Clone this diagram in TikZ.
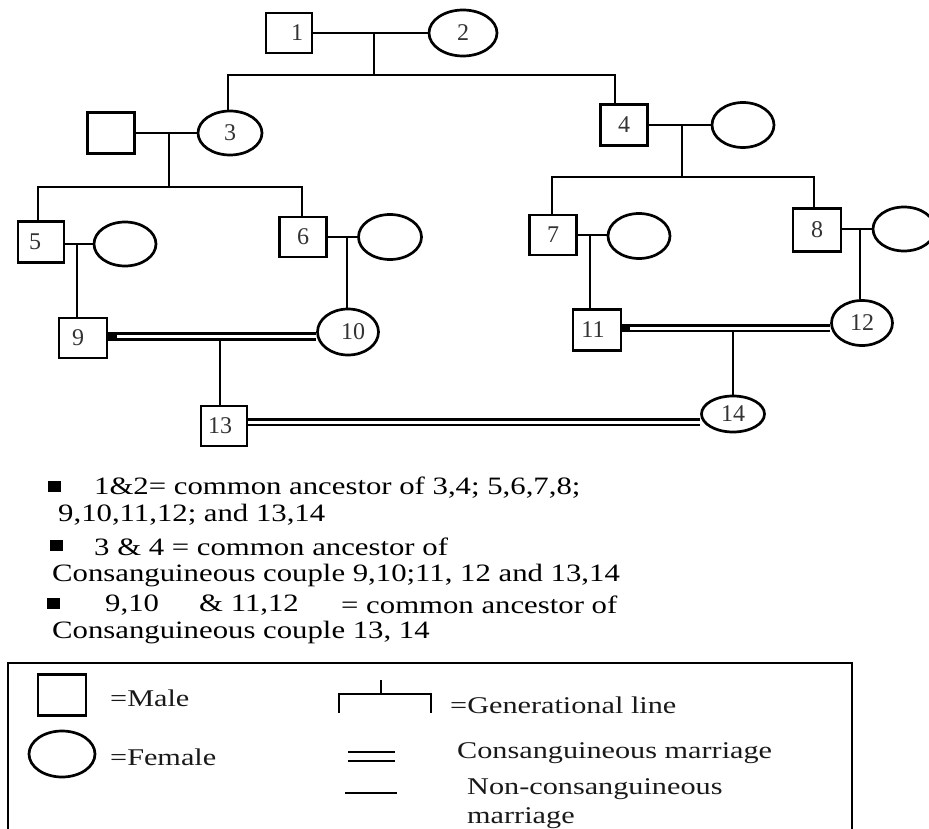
\documentclass[tikz,border=0pt]{standalone}
\usepackage{fontspec}
\setmainfont{Liberation Serif}
\usepackage{graphicx}
\usetikzlibrary{shapes.geometric,backgrounds}
\newcommand\wtxt[2]{\scalebox{#1}[1]{#2}}
\begin{document}
\begin{tikzpicture}[x=1pt,y=-1pt,
  ln/.style={line width=2.9pt},
  male/.style={draw, line width=2.7pt, rectangle, minimum width=46pt, minimum height=40pt, inner sep=0pt,
    font=\fontsize{24}{26}\selectfont, text=black!80},
  female/.style={draw, line width=2.7pt, ellipse, minimum width=62pt, minimum height=44pt, inner sep=0pt,
    font=\fontsize{24}{26}\selectfont, text=black!80},
  dbl/.style={double, double distance=3pt, line width=2.6pt},
  blob/.style={fill=black, draw=none},
  txt/.style={anchor=west, inner sep=0pt, font=\fontsize{25}{29}\selectfont, text=black},
  leg/.style={anchor=west, inner sep=0pt, font=\fontsize{24}{28}\selectfont, text=black!90},
  bul/.style={fill=black, draw=none, rectangle, minimum width=13pt, minimum height=11pt, inner sep=0pt}
]
\useasboundingbox (0,0) rectangle (929,829);
\clip (0,0) rectangle (929,829);

% ---------- persons ----------
\node[male] (n1) at (289,33) {\kern16pt 1};
\node[female, minimum width=68pt, minimum height=46pt] (n2) at (463,33) {2};
\node[male, minimum width=47pt, minimum height=41pt] (h3) at (111,133) {};
\node[female, minimum width=64pt] (n3) at (230,133) {3};
\node[male, minimum width=47pt, minimum height=41pt] (n4) at (624,125) {4};
\node[female, minimum height=45pt] (w4) at (743,125) {};
\node[male, minimum height=41pt] (n5) at (41,242) {\kern-12pt 5};
\node[female] (w5) at (125,244) {};
\node[male, minimum width=47pt] (n6) at (303,237) {6};
\node[female, minimum width=63pt, minimum height=45pt] (w6) at (390,237) {};
\node[male, minimum width=47pt] (n7) at (553,235) {7};
\node[female, minimum height=45pt] (w7) at (639,236) {};
\node[male, minimum width=48pt, minimum height=43pt] (n8) at (817,230) {8};
\node[female] (w8) at (904,229) {};
\node[male, minimum width=48pt] (n9) at (83,338) {\kern-10pt 9};
\node[female, minimum width=61pt, minimum height=46pt] (n10) at (348,332) {\kern10pt 10};
\node[male, minimum width=48pt, minimum height=41pt] (n11) at (597,330) {\kern-8pt 11};
\node[female, minimum width=61pt, minimum height=45pt] (n12) at (862,323) {12};
\node[male] (n13) at (224,426) {\kern-8pt 13};
\node[female, minimum width=63pt, minimum height=36pt] (n14) at (733,414) {14};

% ---------- junctions ----------
\coordinate (m12) at (374,33);
\coordinate (sL) at (228,75);
\coordinate (sR) at (615,75);
\coordinate (mh3) at (169,133);
\coordinate (a5) at (38,187);
\coordinate (a6) at (302,187);
\coordinate (m4) at (682,125);
\coordinate (a7) at (552,177);
\coordinate (a8) at (814,177);
\coordinate (m5) at (77,244);
\coordinate (m6) at (347,237);
\coordinate (m7) at (590,235);
\coordinate (m8) at (860,229);
\coordinate (d910) at (220,336.5);
\coordinate (d1112) at (733,328);
\coordinate (d1314) at (475,422);

\begin{pgfonlayer}{background}
% marriages (single)
\draw[ln] (n1) -- (n2);
\draw[ln] (h3) -- (n3);
\draw[ln] (n4) -- (w4);
\draw[ln] (n5.east |- m5) -- (w5.west |- m5);
\draw[ln] (n6) -- (w6);
\draw[ln] (n7.east |- m7) -- (w7.west |- m7);
\draw[ln] (n8.east |- m8) -- (w8.west |- m8);
% descents and sibships
\draw[ln] (m12) -- (m12 |- sL);
\draw[ln] (n3.north -| sL) -- (sL) -- (sR) -- (sR |- n4.north);
\draw[ln] (mh3) -- (mh3 |- a5);
\draw[ln] (n5.north -| a5) -- (a5) -- (a6) -- (a6 |- n6.north);
\draw[ln] (m4) -- (m4 |- a7);
\draw[ln] (n7.north -| a7) -- (a7) -- (a8) -- (a8 |- n8.north);
\draw[ln] (m5) -- (m5 |- n9.north);
\draw[ln] (m6) -- (m6 |- n10.north);
\draw[ln] (m7) -- (m7 |- n11.north);
\draw[ln] (m8) -- (m8 |- n12.north);
\draw[ln] (d910) -- (d910 |- n13.north);
\draw[ln] (d1112) -- (d1112 |- n14.north);
% consanguineous marriages
\draw[dbl] (n9.east |- d910) -- (n10.west |- d910);
\draw[dbl] (n11.east |- d1112) -- (n12.west |- d1112);
\draw[dbl] (n13.east |- d1314) -- (n14.west |- d1314);
\end{pgfonlayer}
% filled ends of the double lines next to 9 and 11
\fill[blob] ([yshift=-4pt]n9.east |- d910) -- ([xshift=9pt,yshift=-4pt]n9.east |- d910)
  -- ([xshift=9pt,yshift=4pt]n9.east |- d910) -- ([yshift=4pt]n9.east |- d910) -- cycle;
\fill[blob] ([yshift=-4pt]n11.east |- d1112) -- ([xshift=8pt,yshift=-4pt]n11.east |- d1112)
  -- ([xshift=8pt,yshift=4pt]n11.east |- d1112) -- ([yshift=4pt]n11.east |- d1112) -- cycle;

% ---------- notes ----------
\node[bul] (b1) at (54.5,486) {};
\node[txt] (t1) at (94,488) {\wtxt{1.23}{1\&2= common ancestor of 3,4; 5,6,7,8;}};
\node[txt] (t2) at (58,515) {\wtxt{1.23}{9,10,11,12; and 13,14}};
\node[bul] (b3) at (56.5,545) {};
\node[txt] (t3) at (94,547) {\wtxt{1.23}{3 \& 4 = common ancestor of}};
\node[txt] (t4) at (52,576) {\wtxt{1.23}{Consanguineous couple 9,10;11, 12 and 13,14}};
\node[bul] (b5) at (53,603) {};
\node[txt] (t5a) at (105,605) {\wtxt{1.23}{9,10}};
\node[txt] (t5b) at (199,605) {\wtxt{1.23}{\& 11,12}};
\node[txt] (t5c) at (341,605) {\wtxt{1.23}{= common ancestor of}};
\node[txt] (t6) at (52,633) {\wtxt{1.23}{Consanguineous couple 13, 14}};

% ---------- legend ----------
\draw[line width=2pt] (8,663) rectangle (852,860);
\node[male, minimum width=48pt, minimum height=41pt] (lm) at (62,695) {};
\node[female, minimum width=66pt, minimum height=46pt] (lf) at (62,754) {};
\node[leg] (lmt) at (110,698) {\wtxt{1.26}{=Male}};
\node[leg] (lft) at (110,757) {\wtxt{1.26}{=Female}};
\coordinate (g1) at (381,680);
\coordinate (g3) at (339,694);
\coordinate (g4) at (431,694);
\draw[line width=2pt] (g1) -- (g1 |- g3);
\draw[line width=2pt] (339,713) -- (g3) -- (g4) -- (431,713);
\node[leg] (lgt) at (450,705) {\wtxt{1.26}{=Generational line}};
\draw[line width=2pt] (348,752) -- (395,752);
\draw[line width=2pt] (348,761) -- (395,761);
\node[leg] (lct) at (457,753) {\wtxt{1.26}{Consanguineous marriage}};
\draw[line width=2.5pt] (345,793) -- (397,793);
\node[leg] (lnt) at (467,789) {\wtxt{1.26}{Non-consanguineous}};
\node[leg] (lnt2) at (467,818) {\wtxt{1.26}{marriage}};
\end{tikzpicture}
\end{document}
